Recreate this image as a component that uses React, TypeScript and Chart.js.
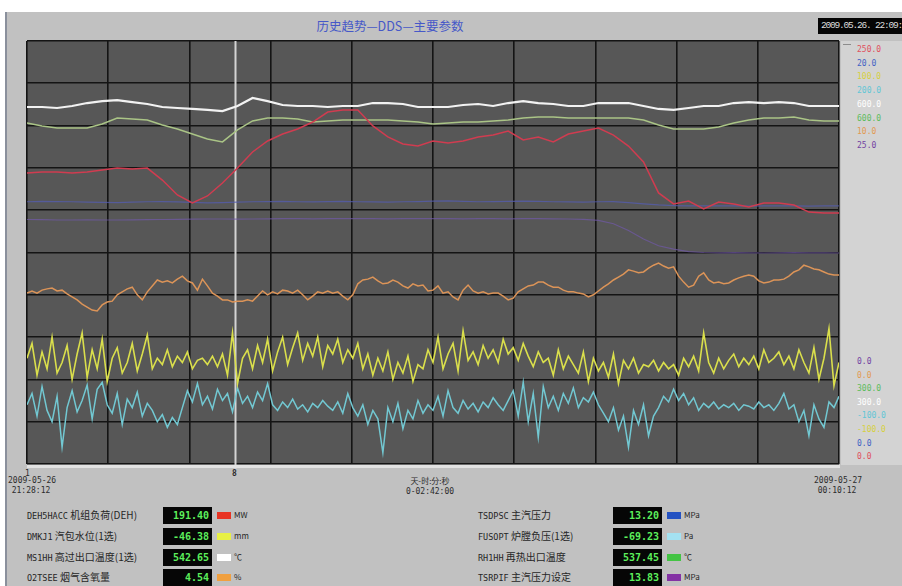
import React, { useEffect, useRef } from "react";
import { Chart, registerables } from "chart.js";

Chart.register(...registerables);

// ---------- time base ----------
const TOTAL_MINUTES = 162; // 21:28:12 -> 00:10:12
const GRID_DIVISIONS = 10;
const CURSOR_MINUTE = 41.5;
const SMOOTH_STEP_MIN = 3;
const NOISY_STEP_MIN = 1;

// ---------- series (engineering units) ----------
const loadMW = [
  172.0, 172.6, 172.6, 172.0, 172.6, 173.8, 174.9, 174.3, 174.9, 167.8,
  159.0, 154.3, 158.4, 166.1, 174.9, 184.4, 190.9, 195.0, 198.0, 202.1,
  208.0, 209.2, 209.2, 199.8, 193.3, 189.1, 187.9, 190.9, 189.7, 190.9,
  193.3, 194.4, 196.8, 191.5, 193.3, 190.3, 195.0, 196.8, 198.6, 194.4,
  187.9, 178.5, 160.2, 153.7, 155.4, 150.7, 154.8, 153.7, 151.9, 154.3,
  154.3, 153.1, 148.9, 148.3, 148.3,
];

const mainSteamTemp = [
  553.2, 553.2, 552.5, 553.9, 556.0, 557.4, 558.1, 556.7, 555.3, 553.2,
  552.5, 551.8, 551.1, 550.3, 553.9, 559.6, 557.4, 554.6, 553.9, 553.9,
  553.2, 553.9, 553.9, 556.0, 556.0, 555.3, 553.2, 553.2, 553.2, 554.6,
  555.3, 553.9, 556.0, 557.4, 556.0, 555.3, 553.9, 553.9, 556.0, 556.0,
  556.0, 553.9, 551.8, 551.1, 552.5, 553.9, 553.9, 556.0, 556.7, 556.0,
  556.7, 556.0, 553.9, 553.9, 553.9,
];

const reheatTemp = [
  541.8, 539.7, 538.3, 538.3, 538.3, 541.1, 545.4, 544.7, 544.0, 540.4,
  537.6, 534.0, 530.5, 528.4, 536.9, 543.3, 545.4, 545.4, 544.7, 542.5,
  543.3, 544.0, 544.0, 544.0, 544.0, 543.3, 542.5, 541.1, 541.8, 542.5,
  542.5, 543.3, 544.0, 545.4, 546.1, 546.1, 545.4, 545.4, 545.4, 545.4,
  545.4, 544.0, 540.4, 537.6, 537.6, 537.6, 539.0, 541.8, 544.0, 545.4,
  545.4, 546.1, 544.0, 543.3, 543.3,
];

const mainPressure = [
  12.40, 12.42, 12.41, 12.40, 12.38, 12.37, 12.36, 12.38, 12.40, 12.41,
  12.39, 12.37, 12.35, 12.36, 12.38, 12.40, 12.41, 12.42, 12.40, 12.39,
  12.41, 12.42, 12.40, 12.39, 12.38, 12.40, 12.41, 12.43, 12.44, 12.42,
  12.40, 12.41, 12.42, 12.43, 12.42, 12.40, 12.39, 12.38, 12.40, 12.41,
  12.36, 12.30, 12.25, 12.22, 12.20, 12.20, 12.21, 12.20, 12.19, 12.20,
  12.21, 12.20, 12.19, 12.20, 12.20,
];

const pressureSetpoint = [
  14.45, 14.44, 14.42, 14.42, 14.43, 14.42, 14.42, 14.43, 14.44, 14.45,
  14.46, 14.47, 14.48, 14.48, 14.47, 14.48, 14.49, 14.50, 14.50, 14.49,
  14.50, 14.51, 14.50, 14.50, 14.49, 14.50, 14.51, 14.50, 14.50, 14.49,
  14.50, 14.50, 14.49, 14.50, 14.50, 14.49, 14.48, 14.46, 14.40, 14.20,
  13.80, 13.30, 12.90, 12.70, 12.55, 12.50, 12.48, 12.49, 12.48, 12.47,
  12.48, 12.49, 12.48, 12.48, 12.47,
];

const o2Percent = [
  4.04, 4.09, 4.04, 4.11, 4.14, 4.16, 4.09, 4.11, 4.02, 3.95,
  3.88, 3.78, 3.71, 3.64, 3.62, 3.76, 3.83, 3.85, 4.00, 4.07,
  4.14, 4.18, 4.00, 3.88, 4.07, 4.21, 4.35, 4.30, 4.33, 4.28,
  4.37, 4.44, 4.33, 4.28, 4.11, 4.37, 4.21, 4.04, 3.97, 3.88,
  3.88, 3.83, 3.85, 3.85, 3.88, 3.85, 3.97, 4.09, 4.00, 4.07,
  4.02, 4.11, 4.09, 4.04, 4.11, 4.00, 3.88, 3.97, 4.07, 4.04,
  4.09, 4.04, 4.07, 3.97, 3.88, 4.00, 4.26, 4.35, 4.37, 4.42,
  4.33, 4.26, 4.28, 4.35, 4.30, 4.21, 4.16, 4.26, 4.21, 4.23,
  4.09, 4.11, 4.21, 4.04, 4.07, 3.95, 3.88, 4.11, 4.23, 4.09,
  4.04, 4.07, 4.02, 4.04, 4.04, 3.97, 3.88, 3.92, 4.07, 4.14,
  4.21, 4.23, 4.30, 4.30, 4.23, 4.18, 4.18, 4.11, 4.07, 4.07,
  4.04, 4.02, 3.95, 4.00, 4.09, 4.18, 4.26, 4.35, 4.42, 4.49,
  4.59, 4.56, 4.52, 4.54, 4.63, 4.70, 4.75, 4.68, 4.63, 4.66,
  4.44, 4.30, 4.18, 4.23, 4.44, 4.52, 4.35, 4.28, 4.30, 4.26,
  4.28, 4.35, 4.40, 4.44, 4.47, 4.44, 4.33, 4.28, 4.30, 4.35,
  4.35, 4.37, 4.44, 4.54, 4.59, 4.70, 4.66, 4.61, 4.59, 4.54,
  4.49, 4.47, 4.47,
];

const drumLevel = [
  -50, -43, -58, -47, -55, -40, -57, -52, -44, -60,
  -48, -38, -59, -46, -55, -41, -61, -50, -45, -57,
  -52, -43, -56, -48, -39, -55, -50, -53, -46, -54,
  -49, -52, -47, -55, -51, -50, -53, -49, -54, -48,
  -58, -38, -62, -50, -46, -55, -44, -52, -41, -56,
  -47, -40, -53, -45, -38, -51, -43, -49, -40, -54,
  -44, -48, -41, -52, -46, -50, -43, -55, -48, -58,
  -50, -56, -47, -60, -52, -57, -49, -61, -53, -55,
  -46, -52, -40, -55, -48, -43, -56, -37, -51, -47,
  -53, -44, -50, -46, -52, -41, -48, -45, -51, -43,
  -49, -54, -47, -52, -50, -58, -46, -55, -49, -53,
  -57, -47, -61, -50, -56, -52, -59, -48, -62, -51,
  -55, -50, -57, -53, -54, -51, -56, -52, -55, -53,
  -58, -50, -54, -49, -56, -38, -52, -57, -50, -55,
  -51, -48, -54, -50, -53, -49, -55, -46, -52, -50,
  -47, -53, -49, -55, -46, -52, -57, -45, -60, -50,
  -36, -63, -52,
];

const furnacePressure = [
  -58, -50, -66, -45, -62, -70, -52, -88, -60, -48,
  -63, -55, -44, -68, -47, -42, -58, -64, -50, -72,
  -54, -60, -49, -66, -57, -62, -70, -65, -74, -67,
  -72, -60, -48, -56, -43, -58, -52, -61, -47, -55,
  -50, -63, -46, -57, -52, -60, -49, -55, -43, -58,
  -62, -56, -60, -54, -61, -58, -63, -57, -60, -55,
  -59, -62, -56, -64, -50, -60, -66, -58, -72, -62,
  -68, -92, -60, -70, -57, -75, -62, -68, -55, -64,
  -58, -62, -52, -66, -48, -60, -64, -55, -61, -57,
  -63, -56, -60, -53, -58, -62, -55, -48, -66, -42,
  -70, -50, -81, -45, -60, -52, -62, -50, -57, -46,
  -60, -53, -56, -49, -58, -64, -70, -60, -76, -66,
  -88, -62, -72, -58, -80, -66, -60, -52, -56, -47,
  -55, -50, -58, -53, -62, -57, -60, -56, -61, -58,
  -60, -57, -62, -58, -59, -61, -56, -60, -58, -62,
  -57, -50, -61, -58, -70, -62, -80, -58, -68, -74,
  -56, -60, -52,
];

// ---------- scale labels (right strip) ----------
const scaleKeys = ["red", "blue", "yellow", "cyan", "white", "green", "orange", "purple"];
const scaleMax = [250, 20, 100, 200, 600, 600, 10, 25];
const scaleMin = [0, 0, -100, -100, 300, 300, 0, 0];
const scaleLabelColors = ["#e0505e", "#4262c4", "#d6d040", "#62c6d6", "#ffffff", "#5cbc5c", "#e29a52", "#7242a2"];

// ---------- legend / readouts ----------
const legendCodes = ["DEH5HACC", "DMKJ1", "MS1HH", "O2TSEE", "TSDPSC", "FUSOPT", "RH1HH", "TSRPIF"];
const legendNames = ["机组负荷(DEH)", "汽包水位(1选)", "高过出口温度(1选)", "烟气含氧量", "主汽压力", "炉膛负压(1选)", "再热出口温度", "主汽压力设定"];
const legendReadings = ["191.40", "-46.38", "542.65", "4.54", "13.20", "-69.23", "537.45", "13.83"];
const legendUnits = ["MW", "mm", "℃", "%", "MPa", "Pa", "℃", "MPa"];
const legendSwatch = ["#e83424", "#e8f044", "#ffffff", "#f0a040", "#2452c2", "#a4e2f2", "#44c444", "#8432a4"];

const lineColors: Record<string, string> = {
  red: "#d03c50",
  blue: "rgba(84, 92, 176, 0.75)",
  yellow: "#dadf4c",
  cyan: "#72c8d2",
  white: "#f2f2f2",
  green: "#aac486",
  orange: "#dc9458",
  purple: "rgba(112, 88, 168, 0.7)",
};

function pts(values: number[], step: number) {
  return values.map((v, i) => ({ x: i * step, y: v }));
}

const gridTimes = Array.from({ length: GRID_DIVISIONS + 1 }, (_, i) => (i * TOTAL_MINUTES) / GRID_DIVISIONS);

export default function App() {
  const canvasRef = useRef<HTMLCanvasElement | null>(null);

  useEffect(() => {
    const canvas = canvasRef.current;
    if (!canvas) return;

    const axisFor = (key: string) => {
      const i = scaleKeys.indexOf(key);
      return { type: "linear" as const, display: false, min: scaleMin[i], max: scaleMax[i] };
    };

    const bgPlugin = {
      id: "plotBg",
      beforeDraw(chart: any) {
        const { ctx, chartArea } = chart;
        ctx.save();
        ctx.fillStyle = "#575757";
        ctx.fillRect(chartArea.left, chartArea.top, chartArea.right - chartArea.left, chartArea.bottom - chartArea.top);
        ctx.restore();
      },
      beforeDatasetsDraw(chart: any) {
        const { ctx, chartArea, scales } = chart;
        const x = Math.round(scales.x.getPixelForValue(CURSOR_MINUTE)) + 0.5;
        ctx.save();
        ctx.strokeStyle = "#d4d4d4";
        ctx.lineWidth = 2;
        ctx.beginPath();
        ctx.moveTo(x, chartArea.top);
        ctx.lineTo(x, chartArea.bottom + 5);
        ctx.stroke();
        ctx.restore();
      },
    };

    const ds = (key: string, values: number[], step: number, width: number) => ({
      label: key,
      data: pts(values, step),
      yAxisID: "y_" + key,
      borderColor: lineColors[key],
      borderWidth: width,
      pointRadius: 0,
      tension: 0,
      fill: false,
    });

    const chart = new Chart(canvas, {
      type: "line",
      data: {
        datasets: [
          ds("white", mainSteamTemp, SMOOTH_STEP_MIN, 2.2),
          ds("red", loadMW, SMOOTH_STEP_MIN, 1.5),
          ds("green", reheatTemp, SMOOTH_STEP_MIN, 1.5),
          ds("yellow", drumLevel, NOISY_STEP_MIN, 1.6),
          ds("cyan", furnacePressure, NOISY_STEP_MIN, 1.5),
          ds("orange", o2Percent, NOISY_STEP_MIN, 1.5),
          ds("blue", mainPressure, SMOOTH_STEP_MIN, 1.2),
          ds("purple", pressureSetpoint, SMOOTH_STEP_MIN, 1.2),
        ] as any,
      },
      options: {
        animation: false,
        responsive: false,
        maintainAspectRatio: false,
        devicePixelRatio: 1,
        layout: { padding: 5 },
        plugins: {
          legend: { display: false },
          tooltip: { enabled: false },
        },
        scales: {
          x: {
            type: "linear",
            min: 0,
            max: TOTAL_MINUTES,
            ticks: { display: false },
            grid: { color: "#141414", lineWidth: 1.6, drawTicks: false },
            border: { display: false },
            afterBuildTicks: (scale: any) => {
              scale.ticks = gridTimes.map((value) => ({ value }));
            },
          },
          yg: {
            type: "linear",
            position: "left",
            min: 0,
            max: GRID_DIVISIONS,
            ticks: { display: false, stepSize: 1 },
            grid: { color: "#141414", lineWidth: 1.6, drawTicks: false },
            border: { display: false },
          },
          y_red: axisFor("red"),
          y_blue: axisFor("blue"),
          y_yellow: axisFor("yellow"),
          y_cyan: axisFor("cyan"),
          y_white: axisFor("white"),
          y_green: axisFor("green"),
          y_orange: axisFor("orange"),
          y_purple: axisFor("purple"),
        } as any,
      },
      plugins: [bgPlugin],
    });

    return () => chart.destroy();
  }, []);

  const small: React.CSSProperties = {
    position: "absolute",
    fontFamily: '"DejaVu Sans Mono", "Liberation Mono", monospace',
    fontSize: 8,
    color: "#2c2c2c",
    lineHeight: "10px",
    whiteSpace: "nowrap",
  };

  const legendRowY = [507, 528, 549, 569];

  return (
    <div
      style={{
        position: "fixed",
        left: 0,
        top: 0,
        width: 902,
        height: 586,
        background: "#ffffff",
        overflow: "hidden",
        fontFamily: '"Noto Sans CJK SC", "Noto Sans", sans-serif',
      }}
    >
      {/* panel */}
      <div
        style={{
          position: "absolute",
          left: 5,
          top: 12,
          width: 897,
          height: 574,
          background: "#c1c1c1",
          borderLeft: "2px solid #8a909c",
          boxSizing: "border-box",
        }}
      />
      {/* title */}
      <div
        style={{
          position: "absolute",
          left: 290,
          top: 18,
          width: 200,
          textAlign: "center",
          fontSize: 12.5,
          color: "#4658c8",
          whiteSpace: "nowrap",
          lineHeight: "16px",
        }}
      >
        历史趋势—DDS—主要参数
      </div>
      {/* clock */}
      <div
        style={{
          position: "absolute",
          left: 818,
          top: 18,
          width: 84,
          height: 16,
          background: "#050505",
          color: "#dcdcdc",
          fontFamily: '"Liberation Mono", "DejaVu Sans Mono", monospace',
          fontSize: 9.5,
          letterSpacing: -1.2,
          lineHeight: "16px",
          paddingLeft: 3,
          boxSizing: "border-box",
          overflow: "hidden",
          whiteSpace: "nowrap",
        }}
      >
        2009.05.26. 22:09:13
      </div>
      {/* right scale strip */}
      <div style={{ position: "absolute", left: 841, top: 41, width: 61, height: 424, background: "#d3d3d3" }} />
      <div style={{ position: "absolute", left: 843, top: 44, width: 8, height: 1, background: "#8c8c8c" }} />
      {scaleKeys.map((k, i) => (
        <div key={"t" + k} style={{ ...small, left: 857, top: 45 + i * 13.7, color: scaleLabelColors[i], fontSize: 8 }}>
          {scaleMax[i].toFixed(1)}
        </div>
      ))}
      {scaleKeys
        .slice()
        .reverse()
        .map((k, j) => {
          const i = scaleKeys.length - 1 - j;
          return (
            <div key={"b" + k} style={{ ...small, left: 857, top: 357 + j * 13.6, color: scaleLabelColors[i], fontSize: 8 }}>
              {scaleMin[i].toFixed(1)}
            </div>
          );
        })}

      {/* chart */}
      <canvas
        ref={canvasRef}
        width={822}
        height={433}
        style={{ position: "absolute", left: 22, top: 36, width: 822, height: 433, display: "block" }}
      />
      {/* axis strip under plot */}
      <div style={{ position: "absolute", left: 27, top: 465, width: 813, height: 3, background: "#e2e2e2" }} />
      <div style={{ ...small, left: 25, top: 469 }}>1</div>
      <div style={{ ...small, left: 232, top: 469, fontWeight: "bold" }}>8</div>

      {/* time labels */}
      <div style={{ ...small, left: 8, top: 476, textAlign: "center", width: 46 }}>
        2009-05-26
        <br />
        21:28:12
      </div>
      <div style={{ ...small, left: 400, top: 476, textAlign: "center", width: 60, fontFamily: '"Noto Sans CJK SC", monospace' }}>
        天-时:分:秒
        <br />
        <span style={{ fontFamily: '"DejaVu Sans Mono", monospace' }}>0-02:42:00</span>
      </div>
      <div style={{ ...small, left: 814, top: 476, textAlign: "center", width: 46 }}>
        2009-05-27
        <br />
        00:10:12
      </div>

      {/* legend rows */}
      {legendCodes.map((code, i) => {
        const col = i < 4 ? 0 : 1;
        const row = i % 4;
        const baseX = col === 0 ? 27 : 478;
        const boxX = col === 0 ? 163 : 613;
        const y = legendRowY[row];
        return (
          <React.Fragment key={code}>
            <div
              style={{
                position: "absolute",
                left: baseX,
                top: y + 1,
                fontSize: 10,
                lineHeight: "14px",
                color: "#262626",
                whiteSpace: "nowrap",
              }}
            >
              <span style={{ fontFamily: '"DejaVu Sans Mono", monospace', fontSize: 8.5 }}>{code}</span>{" "}
              {legendNames[i]}
            </div>
            <div
              style={{
                position: "absolute",
                left: boxX,
                top: y,
                width: 49,
                height: 17,
                background: "#060606",
                color: "#5cf05c",
                fontFamily: '"DejaVu Sans Mono", monospace',
                fontSize: 10,
                fontWeight: "bold",
                lineHeight: "17px",
                textAlign: "right",
                paddingRight: 3,
                boxSizing: "border-box",
              }}
            >
              {legendReadings[i]}
            </div>
            <div
              style={{
                position: "absolute",
                left: boxX + 54,
                top: y + 5,
                width: 14,
                height: 7,
                background: legendSwatch[i],
              }}
            />
            <div
              style={{
                position: "absolute",
                left: boxX + 71,
                top: y + 2,
                fontSize: 8,
                lineHeight: "11px",
                color: "#262626",
                whiteSpace: "nowrap",
              }}
            >
              {legendUnits[i]}
            </div>
          </React.Fragment>
        );
      })}
    </div>
  );
}
